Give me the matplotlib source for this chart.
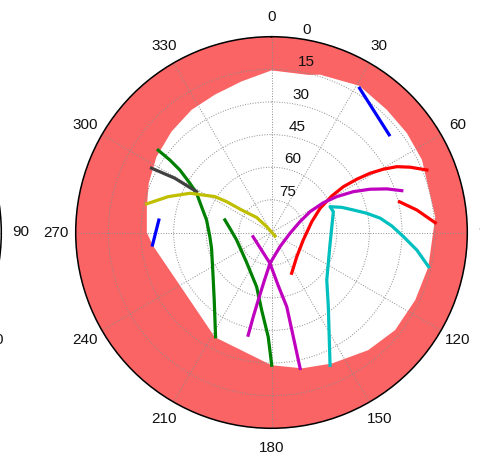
import numpy as np
import matplotlib
matplotlib.use("Agg")
import matplotlib.pyplot as plt

plt.rcParams["font.family"] = ["Liberation Sans", "DejaVu Sans"]

# elevation mask: visible sky starts above this elevation (deg) at each azimuth (deg)
mask_az = [0, 13.2, 17.1, 30.9, 43.2, 53.7, 64.2, 84.6, 102.4, 115.2, 128.3, 140.6,
           155.3, 167.3, 180, 208.4, 236.2, 264, 270, 281.6, 291.9, 303.4, 315.3,
           326.9, 337.7, 348.8, 360]
mask_el = [15.5, 15.6, 14.1, 11.4, 12.6, 12.8, 13.2, 14.4, 16.2, 17.0, 17.6, 20.0,
           23.7, 26.0, 29.0, 35.3, 41.5, 35.0, 32.7, 31.5, 29.2, 26.7, 24.7,
           22.7, 21.5, 19.2, 15.5]

# satellite tracks (azimuth, elevation in degrees)
blue1_az = [31.4, 50.3]
blue1_el = [12.3, 19.7]
blue2_az = [276.3, 264.0]
blue2_el = [37.9, 35.0]
green1_az = [306.0, 305.5, 304.3, 301.1, 297.7, 290.3, 280.9, 266.1, 255.2, 232.8,
             220.3, 208.2]
green1_el = [25.6, 32.6, 39.0, 46.2, 51.1, 55.7, 59.6, 61.6, 61.5, 56.3,
             49.3, 35.6]
green2_az = [285.1, 273.5, 257.8, 220.3, 195.3, 187.2, 181.8, 179.9]
green2_el = [67.8, 71.3, 73.6, 72.2, 64.1, 54.0, 42.0, 29.0]
gray_az = [298.2, 299.3, 298.6]
gray_el = [27.4, 39.0, 50.8]
olive_az = [282.9, 289.1, 295.7, 302.4, 304.5, 307.0, 315.4, 320.7, 135.0]
olive_el = [31.1, 39.7, 48.4, 59.2, 65.0, 72.8, 80.3, 86.7, 87.7]
red1_az = [153.7, 133.8, 103.3, 74.9, 63.5, 58.8, 57.5, 58.0, 59.0, 60.5, 62.3, 64.8, 68.1]
red1_el = [69.1, 73.9, 75.0, 70.8, 65.0, 57.6, 50.8, 43.8, 37.1, 30.9, 24.9, 19.5, 13.0]
red2_az = [76.5, 81.2, 86.6]
red2_el = [29.5, 22.4, 14.6]
cyan_az = [156.2, 142.6, 130.7, 100.5, 71.4, 66.2, 70.3, 74.6, 78.6, 82.5, 86.9,
           91.8, 96.9, 102.3]
cyan_el = [23.3, 47.0, 56.5, 62.6, 60.0, 60.6, 55.7, 51.0, 45.3, 39.6, 34.6,
           29.3, 22.7, 16.1]
mag1_az = [257.2, 182.8, 172.9, 168.4, 168.2, 168.1]
mag1_el = [81.3, 75.8, 65.6, 55.2, 41.8, 26.1]
mag2_az = [192.8, 192.2, 191.1, 188.7, 182.8, 149.1, 92.5, 69.2, 61.6, 60.1, 61.2,
           63.5, 66.3, 69.3, 72.2]
mag2_el = [41.6, 50.4, 58.3, 67.1, 75.8, 82.4, 81.5, 76.0, 69.8, 62.5, 55.8,
           47.9, 40.5, 33.3, 27.1]

tracks = [
    (green1_az, green1_el, (0, 0.5, 0)),
    (gray_az, gray_el, (0.25, 0.25, 0.25)),
    (olive_az, olive_el, (0.75, 0.75, 0)),
    (green2_az, green2_el, (0, 0.5, 0)),
    (red1_az, red1_el, (1, 0, 0)),
    (red2_az, red2_el, (1, 0, 0)),
    (cyan_az, cyan_el, (0, 0.75, 0.75)),
    (mag1_az, mag1_el, (0.75, 0, 0.75)),
    (mag2_az, mag2_el, (0.75, 0, 0.75)),
    (blue1_az, blue1_el, (0, 0, 1)),
    (blue2_az, blue2_el, (0, 0, 1)),
]

ring_el = [0, 15, 30, 45, 60, 75]

W, H = 481, 455
R = 195.8

fig = plt.figure(figsize=(W / 100, H / 100), dpi=100)


def sky_axes(cx, cy, labels=range(0, 360, 30)):
    """Polar sky plot centred at pixel (cx, cy); radius = 90 - elevation."""
    ax = fig.add_axes([(cx - R) / W, (H - cy - R) / H, 2 * R / W, 2 * R / H],
                      projection="polar")
    ax.set_theta_zero_location("N")
    ax.set_theta_direction(-1)
    ax.set_ylim(0, 90)
    ax.set_xticks(np.radians(np.arange(0, 360, 30)))
    ax.set_yticks([15, 30, 45, 60, 75])
    ax.set_xticklabels([])
    ax.set_yticklabels([])
    ax.grid(True, color="0.55", linestyle=":", linewidth=0.7)
    ax.spines["polar"].set_linewidth(1.1)
    for a in labels:
        ax.text(np.radians(a), 99, str(a), ha="center", va="center",
                fontsize=11, color="#111111")
    return ax


# neighbouring panel, mostly off the canvas
sky_axes(1.3 - R, 232.5, labels=[60, 90, 120])

ax = sky_axes(271.5, 232.5)
ax.set_facecolor("#fa6464")
ax.fill(np.radians(mask_az), 90 - np.array(mask_el), color="white", lw=0, zorder=0.5)

for el in ring_el:
    ax.annotate(str(el), (np.radians(8), 90 - el + 0.75), xytext=(3, 0),
                textcoords="offset pixels", ha="left", va="bottom",
                fontsize=11, color="#111111", annotation_clip=False)

for az, el, c in tracks:
    ax.plot(np.radians(az), 90 - np.array(el), color=c, lw=2.3,
            solid_joinstyle="round")

fig.savefig("out.png", dpi=100)
